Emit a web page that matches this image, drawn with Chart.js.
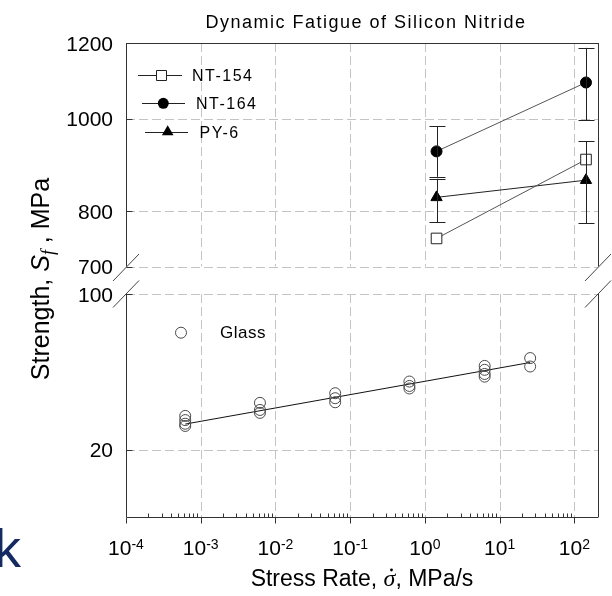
<!DOCTYPE html>
<html>
<head>
<meta charset="utf-8">
<script src="https://cdn.jsdelivr.net/npm/chart.js@4.4.0/dist/chart.umd.min.js"></script>
<style>
html,body{margin:0;padding:0;background:#fff;}
#wrap{position:relative;width:612px;height:596px;}
</style>
</head>
<body>
<div id="wrap"><canvas id="c" width="612" height="596"></canvas></div>
<script>
// ---------------- data ----------------
const chartTitle = 'Dynamic Fatigue of Silicon Nitride';
const xTickExponents = [-4, -3, -2, -1, 0, 1, 2];
const upperTickLabels = [1200, 1000, 800, 700];
const lowerTickLabels = [100, 20];
const upperGridValues = [1000, 800, 700];
const lowerGridValues = [100, 20];
const seriesNames = ['NT-154', 'NT-164', 'PY-6'];

const siliconRates = [1.43, 143];
const nt154 = [749, 906];
const nt164 = [924, 1091];
const py6 = [827, 862];
const nt164ErrLow = [869, 996];
const nt164ErrHigh = [982, 1186];
const py6ErrLow = [779, 777];
const py6ErrHigh = [865, 947];

const glassLabel = 'Glass';
const glassRates = [6.2e-4, 6.2e-3, 6.3e-2, 0.62, 6.3, 25.6];
const glassStrengths = [
  [28.4, 27.2, 26.2, 25.6],
  [32.5, 30.2, 29.3],
  [35.9, 34.1, 32.7],
  [40.5, 38.7, 37.7],
  [47.6, 45.7, 43.8, 42.6],
  [51.6, 47.3]
];
const glassFitRates = [6.2e-4, 25.6];
const glassFitStrengths = [26.1, 49.3];

// ---------------- helpers ----------------
const SANS = '"Liberation Sans", Arial, sans-serif';
const SERIF = '"Liberation Serif", "Times New Roman", serif';
const pts = (xs, ys) => xs.map((x, i) => ({x, y: ys[i]}));
const glassPoints = glassRates.flatMap((x, i) => glassStrengths[i].map(y => ({x, y})));
const crisp = v => Math.round(v) + 0.5;

const datasets = [
  {label: 'Glass', data: glassPoints, yAxisID: 'yBot', showLine: false,
   pointStyle: 'circle', pointRadius: 5.5, pointBorderWidth: 1,
   pointBorderColor: '#4a4a4a', pointBackgroundColor: 'rgba(0,0,0,0)'},
  {label: 'Glass fit', data: pts(glassFitRates, glassFitStrengths), yAxisID: 'yBot', showLine: true,
   borderColor: '#111', borderWidth: 1, pointRadius: 0},
  {label: seriesNames[0], data: pts(siliconRates, nt154), yAxisID: 'yTop', showLine: true,
   borderColor: '#555', borderWidth: 1, pointStyle: 'rect', pointRadius: 7.5, pointBorderWidth: 1,
   pointBorderColor: '#222', pointBackgroundColor: '#fff'},
  {label: seriesNames[1], data: pts(siliconRates, nt164), yAxisID: 'yTop', showLine: true,
   borderColor: '#555', borderWidth: 1, pointStyle: 'circle', pointRadius: 5.5, pointBorderWidth: 1,
   pointBorderColor: '#000', pointBackgroundColor: '#000'},
  {label: seriesNames[2], data: pts(siliconRates, py6), yAxisID: 'yTop', showLine: true,
   borderColor: '#222', borderWidth: 1, pointStyle: 'triangle', pointRadius: 6.5, pointBorderWidth: 1,
   pointBorderColor: '#000', pointBackgroundColor: '#000'}
];

const errorBars = [
  {low: nt164ErrLow, high: nt164ErrHigh},
  {low: py6ErrLow, high: py6ErrHigh}
];

const hidden = {grid: {display: false, drawTicks: false}, border: {display: false}, ticks: {display: false}};

const decor = {
  id: 'decor',
  beforeDatasetsDraw(chart) {
    const ctx = chart.ctx, a = chart.chartArea;
    const xs = chart.scales.x, yt = chart.scales.yTop, yb = chart.scales.yBot;
    ctx.save();
    ctx.strokeStyle = '#c4c4c4';
    ctx.lineWidth = 1;
    ctx.setLineDash([9, 4]);
    ctx.beginPath();
    upperGridValues.forEach(v => { const y = crisp(yt.getPixelForValue(v)); ctx.moveTo(a.left, y); ctx.lineTo(a.right, y); });
    lowerGridValues.forEach(v => { const y = crisp(yb.getPixelForValue(v)); ctx.moveTo(a.left, y); ctx.lineTo(a.right, y); });
    xTickExponents.slice(1).forEach(e => {
      const x = crisp(xs.getPixelForValue(Math.pow(10, e)));
      ctx.moveTo(x, yt.top); ctx.lineTo(x, yt.bottom);
      ctx.moveTo(x, yb.top); ctx.lineTo(x, yb.bottom);
    });
    ctx.stroke();
    ctx.restore();
  },
  afterDatasetsDraw(chart) {
    const ctx = chart.ctx, a = chart.chartArea;
    const xs = chart.scales.x, yt = chart.scales.yTop, yb = chart.scales.yBot;
    ctx.save();
    // error bars
    ctx.strokeStyle = '#222'; ctx.lineWidth = 1;
    errorBars.forEach(eb => {
      siliconRates.forEach((r, i) => {
        const x = crisp(xs.getPixelForValue(r));
        const y1 = yt.getPixelForValue(eb.low[i]), y2 = yt.getPixelForValue(eb.high[i]);
        ctx.beginPath();
        ctx.moveTo(x, y1); ctx.lineTo(x, y2);
        ctx.moveTo(x - 8, crisp(y1)); ctx.lineTo(x + 8, crisp(y1));
        ctx.moveTo(x - 8, crisp(y2)); ctx.lineTo(x + 8, crisp(y2));
        ctx.stroke();
      });
    });
    // frame
    const L = crisp(a.left), R = crisp(a.right);
    ctx.strokeStyle = '#333';
    ctx.beginPath();
    ctx.moveTo(L, crisp(yt.top)); ctx.lineTo(R, crisp(yt.top));
    ctx.moveTo(L, crisp(yb.bottom)); ctx.lineTo(R, crisp(yb.bottom));
    [L, R].forEach(x => {
      ctx.moveTo(x, yt.top); ctx.lineTo(x, yt.bottom);
      ctx.moveTo(x, yb.top); ctx.lineTo(x, yb.bottom);
    });
    // left ticks (inside)
    upperTickLabels.forEach(v => { const y = crisp(yt.getPixelForValue(v)); ctx.moveTo(L, y); ctx.lineTo(L + 6, y); });
    lowerTickLabels.forEach(v => { const y = crisp(yb.getPixelForValue(v)); ctx.moveTo(L, y); ctx.lineTo(L + 6, y); });
    // x ticks
    const B = crisp(yb.bottom);
    xTickExponents.forEach(e => {
      const x = crisp(xs.getPixelForValue(Math.pow(10, e)));
      ctx.moveTo(x, B); ctx.lineTo(x, B + 6);
      if (e < 2) {
        for (let m = 2; m <= 9; m++) {
          const xm = crisp(xs.getPixelForValue(m * Math.pow(10, e)));
          ctx.moveTo(xm, B); ctx.lineTo(xm, B - 4);
        }
      }
    });
    ctx.stroke();
    // break marks
    ctx.strokeStyle = '#444';
    ctx.beginPath();
    [a.left, a.right].forEach(x => {
      [yt.bottom + 1, yb.top].forEach(y => {
        ctx.moveTo(x - 13, y + 13.5); ctx.lineTo(x + 13, y - 13.5);
      });
    });
    ctx.stroke();

    // y tick labels
    ctx.fillStyle = '#000';
    ctx.font = '21px ' + SANS;
    ctx.textAlign = 'right'; ctx.textBaseline = 'alphabetic';
    upperTickLabels.forEach(v => ctx.fillText(String(v), a.left - 13, yt.getPixelForValue(v) + 7.5));
    lowerTickLabels.forEach(v => ctx.fillText(String(v), a.left - 13, yb.getPixelForValue(v) + 7.5));

    // x tick labels with superscript
    ctx.textAlign = 'left';
    xTickExponents.forEach(e => {
      const x = xs.getPixelForValue(Math.pow(10, e));
      ctx.font = '21px ' + SANS;
      const wb = ctx.measureText('10').width;
      const sup = (e < 0 ? '-' : '') + Math.abs(e);
      ctx.font = '14px ' + SANS;
      const ws = ctx.measureText(sup).width;
      const x0 = x - (wb + ws) / 2;
      ctx.font = '21px ' + SANS;
      ctx.fillText('10', x0, 555);
      ctx.font = '14px ' + SANS;
      ctx.fillText(sup, x0 + wb, 549);
    });

    // title
    ctx.font = '18px ' + SANS;
    ctx.textAlign = 'center';
    try { ctx.letterSpacing = '1.5px'; } catch (e) {}
    ctx.fillText(chartTitle, 366, 27.5);
    try { ctx.letterSpacing = '0px'; } catch (e) {}

    // x axis title
    const xt = [
      {t: 'Stress Rate, ', f: '23px ' + SANS},
      {t: '\u03c3', f: 'italic 24px ' + SERIF, dot: true},
      {t: ', MPa/s', f: '23px ' + SANS}
    ];
    let tw = 0;
    xt.forEach(s => { ctx.font = s.f; s.w = ctx.measureText(s.t).width; tw += s.w; });
    let cx = 362 - tw / 2;
    ctx.textAlign = 'left';
    xt.forEach(s => {
      ctx.font = s.f; ctx.fillText(s.t, cx, 586);
      if (s.dot) { ctx.beginPath(); ctx.arc(cx + s.w / 2 + 2, 570, 1.4, 0, Math.PI * 2); ctx.fill(); }
      cx += s.w;
    });

    // y axis title (rotated)
    ctx.save();
    ctx.translate(48.5, 279);
    ctx.rotate(-Math.PI / 2);
    const yts = [
      {t: 'Strength, ', f: '25px ' + SANS, dy: 0},
      {t: 'S', f: 'italic 25px ' + SANS, dy: 0},
      {t: 'f', f: 'italic 18px ' + SERIF, dy: 5},
      {t: ' , MPa', f: '25px ' + SANS, dy: 0}
    ];
    tw = 0;
    yts.forEach(s => { ctx.font = s.f; s.w = ctx.measureText(s.t).width; tw += s.w; });
    cx = -tw / 2;
    yts.forEach(s => { ctx.font = s.f; ctx.fillText(s.t, cx, s.dy); cx += s.w; });
    ctx.restore();

    // legend (upper)
    ctx.strokeStyle = '#222'; ctx.lineWidth = 1;
    ctx.font = '16px ' + SANS;
    try { ctx.letterSpacing = '1.5px'; } catch (e) {}
    const rows = [
      {x1: 138, x2: 182, mx: 161.7, y: 75, text: 192, tb: 81, mark: 'rect'},
      {x1: 142, x2: 185, mx: 163.3, y: 103.3, text: 196, tb: 109, mark: 'circle'},
      {x1: 145, x2: 188, mx: 167.7, y: 131.7, text: 199.5, tb: 138, mark: 'triangle'}
    ];
    rows.forEach((r, i) => {
      ctx.beginPath(); ctx.moveTo(r.x1, crisp(r.y)); ctx.lineTo(r.x2, crisp(r.y)); ctx.stroke();
      ctx.beginPath();
      if (r.mark === 'rect') {
        ctx.rect(crisp(r.mx - 5.3), crisp(r.y - 5.3), 10, 10);
        ctx.fillStyle = '#fff'; ctx.fill(); ctx.stroke();
      } else if (r.mark === 'circle') {
        ctx.arc(r.mx, r.y, 5.5, 0, Math.PI * 2); ctx.fillStyle = '#000'; ctx.fill();
      } else {
        ctx.moveTo(r.mx, r.y - 6.5); ctx.lineTo(r.mx + 5.8, r.y + 3.5); ctx.lineTo(r.mx - 5.8, r.y + 3.5); ctx.closePath();
        ctx.fillStyle = '#000'; ctx.fill();
      }
      ctx.fillStyle = '#000';
      ctx.fillText(seriesNames[i], r.text, r.tb);
    });
    // glass legend
    ctx.beginPath(); ctx.strokeStyle = '#4a4a4a'; ctx.arc(181, 332.7, 5.5, 0, Math.PI * 2); ctx.stroke();
    ctx.font = '17px ' + SANS;
    try { ctx.letterSpacing = '0.5px'; } catch (e) {}
    ctx.fillText(glassLabel, 220, 338);
    try { ctx.letterSpacing = '0px'; } catch (e) {}

    // stray slide letter at lower-left
    ctx.fillStyle = '#152a60';
    ctx.font = '54px ' + SANS;
    ctx.fillText('k', -6, 567);
    ctx.restore();
  }
};

new Chart(document.getElementById('c'), {
  type: 'scatter',
  data: {datasets},
  options: {
    responsive: false,
    animation: false,
    events: [],
    layout: {padding: {left: 126, right: 14, top: 43, bottom: 79}},
    plugins: {legend: {display: false}, tooltip: {enabled: false}, title: {display: false}},
    scales: {
      x: Object.assign({type: 'logarithmic', position: 'bottom', min: 1e-4, max: 207}, hidden),
      yTop: Object.assign({type: 'logarithmic', position: 'left', stack: 'panels', stackWeight: 223.5, weight: 3, min: 700, max: 1200}, hidden),
      yGap: Object.assign({type: 'linear', position: 'left', stack: 'panels', stackWeight: 27.5, weight: 2, min: 0, max: 1}, hidden),
      yBot: Object.assign({type: 'logarithmic', position: 'left', stack: 'panels', stackWeight: 223, weight: 1, min: 10, max: 100}, hidden)
    }
  },
  plugins: [decor]
});
</script>
</body>
</html>
